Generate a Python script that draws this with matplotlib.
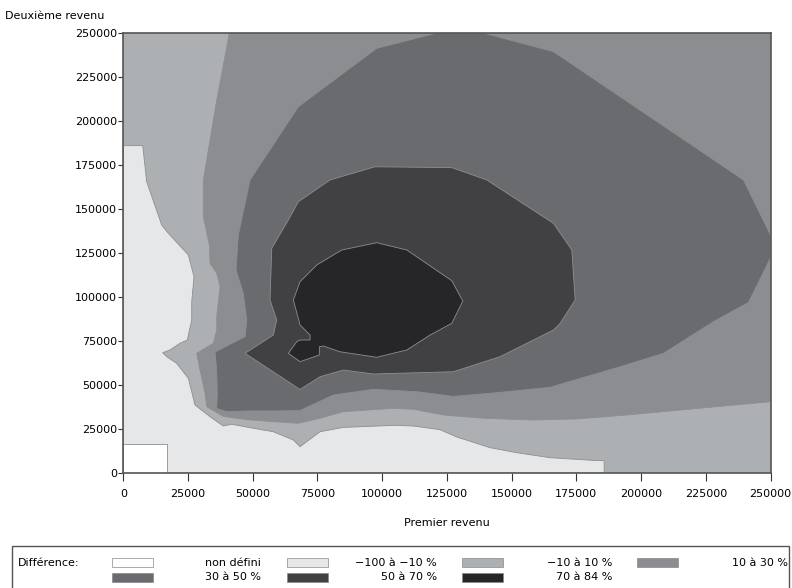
import matplotlib
matplotlib.use('Agg')
import matplotlib.pyplot as plt
from matplotlib.patches import Rectangle

# classes de la légende et niveaux de gris
classes = ['non défini', '\u2212100 à \u221210 %', '\u221210 à 10 %', '10 à 30 %',
           '30 à 50 %', '50 à 70 %', '70 à 84 %']
gris = ['#ffffff', '#e6e7e9', '#adb0b3', '#8c8d91', '#6a6b6f', '#414144', '#262628']
ticks = [0, 25000, 50000, 75000, 100000, 125000, 150000, 175000, 200000, 225000, 250000]

# zone non définie
nd_x = [0, 17000, 17000, 0]
nd_y = [0, 0, 16300, 16300]

# limites des zones (premier revenu, deuxième revenu)
# -100 à -10 %
c1_x = [0, 7500, 9040, 14840, 17390, 25120, 27320, 26430, 26430, 24730, 21900, 18040,
        15220, 16770, 20630, 25120, 27700, 33500, 38640, 41890, 48960, 57960, 65690,
        68280, 70870, 76010, 85010, 105000, 112060, 122380, 128830, 141700, 152010,
        164880, 181600, 185750, 185750, 0]
c1_y = [186000, 186000, 165500, 140900, 136200, 123900, 111500, 97300, 86900, 75570,
        73700, 69900, 68350, 66100, 62300, 53800, 38650, 32000, 26700, 27700, 25750,
        23450, 18750, 14950, 17800, 23450, 25900, 27100, 26700, 24600, 20450, 14380,
        11530, 8700, 7160, 7000, 0, 0]

# au-dessus de 10 %
c3_x = [40960, 36090, 30910, 30910, 33230, 33500, 36090, 37370, 36090, 36090, 34780,
        28360, 29640, 31570, 32230, 38640, 47680, 57960, 67620, 76010, 85010, 104330,
        112060, 123650, 139100, 158420, 175190, 194510, 250000, 250000]
c3_y = [250000, 211900, 166500, 145600, 129550, 119150, 113500, 105850, 88800, 81250,
        73700, 68000, 58500, 45300, 37700, 32150, 30300, 29150, 28250, 31100, 34850,
        36750, 36200, 32950, 31100, 30100, 30700, 32950, 40500, 250000]

# au-dessus de 30 %
c4_x = [139100, 121100, 97900, 67620, 48960, 44440, 43550, 46370, 47680, 47020, 35430,
        36090, 36320, 36090, 39950, 47680, 59270, 68280, 81140, 96600, 113370, 127510,
        145560, 164880, 191930, 208660, 227980, 241500, 250000, 250000, 239570, 166150]
c4_y = [250000, 250000, 241300, 208100, 166500, 135200, 115300, 102100, 86900, 77450,
        68750, 58500, 45300, 36750, 34850, 35250, 35250, 35500, 44300, 47550, 46200,
        43500, 45800, 48700, 60400, 68000, 86000, 96900, 122200, 135200, 166500, 239400]

# au-dessus de 50 %
c5_x = [47020, 57960, 59270, 56690, 57340, 63760, 67620, 79870, 97260, 126890, 140410,
        153290, 166150, 173260, 174530, 168740, 166150, 145560, 127510, 96600, 85010,
        76010, 68280]
c5_y = [68000, 78400, 86900, 98300, 127700, 143750, 154150, 166500, 174000, 173500,
        166500, 154150, 141900, 126700, 98300, 85050, 81250, 66100, 57550, 56250, 58500,
        54700, 47450]

# au-dessus de 70 %
c6_x = [97910, 109510, 126890, 131140, 126890, 118510, 109510, 97910, 83640, 77280,
        75730, 75730, 68280, 63760, 67000, 68280, 72140, 72140, 68280, 65690, 68280,
        74730, 84390]
c6_y = [130850, 126700, 109250, 97700, 85050, 78400, 69900, 65750, 68900, 72150, 71750,
        67050, 63250, 68000, 74600, 75570, 75570, 78400, 84100, 98300, 108700, 118200,
        126700]

W, H = 792, 588
fig = plt.figure(figsize=(W / 100, H / 100), dpi=100)
ax = fig.add_axes([123.3 / W, 115 / H, 647.2 / W, 440 / H])
ax.set_xlim(0, 250000)
ax.set_ylim(0, 250000)
ax.set_facecolor(gris[2])

bord = '#8e8e8e'
for xs, ys, c in [(c1_x, c1_y, gris[1]), (c3_x, c3_y, gris[3]), (c4_x, c4_y, gris[4]),
                  (c5_x, c5_y, gris[5]), (c6_x, c6_y, gris[6])]:
    ax.fill(xs, ys, facecolor=c, edgecolor=bord, linewidth=0.6)
ax.fill(nd_x, nd_y, facecolor=gris[0], edgecolor=bord, linewidth=0.6)

ax.set_xticks(ticks)
ax.set_yticks(ticks)
ax.set_xticklabels([str(t) for t in ticks])
ax.set_yticklabels([str(t) for t in ticks])
ax.tick_params(axis='x', direction='out', length=5.5, width=0.8, pad=6, labelsize=8,
               color='#333333')
ax.tick_params(axis='y', direction='out', length=3.6, width=0.8, pad=1, labelsize=8,
               color='#333333')
for s in ax.spines.values():
    s.set_color('#555555')
    s.set_linewidth(1.2)

fig.text(5 / W, 1 - 16 / H, 'Deuxième revenu', fontsize=8, va='center', ha='left')
fig.text(447 / W, 1 - 523 / H, 'Premier revenu', fontsize=8, va='center', ha='center')

# légende
fig.patches.append(Rectangle((11.7 / W, -0.02), (789 - 11.7) / W, 0.02 + (H - 546) / H,
                             transform=fig.transFigure, facecolor='none',
                             edgecolor='#555555', linewidth=1.0))
fig.text(18 / W, 1 - 562.5 / H, 'Différence:', fontsize=8, va='center', ha='left')
sw_x = [112, 287, 462, 637]
txt_x = [261, 437, 612, 788]
rows = [562.5, 577.5]
for i, lab in enumerate(classes):
    r, col = divmod(i, 4)
    yc = rows[r]
    fig.patches.append(Rectangle((sw_x[col] / W, 1 - (yc + 4.5) / H), 41 / W, 9 / H,
                                 transform=fig.transFigure, facecolor=gris[i],
                                 edgecolor='#888888', linewidth=0.5))
    fig.text(txt_x[col] / W, 1 - yc / H, lab, fontsize=8, va='center', ha='right')

fig.savefig('out.png', dpi=100)
